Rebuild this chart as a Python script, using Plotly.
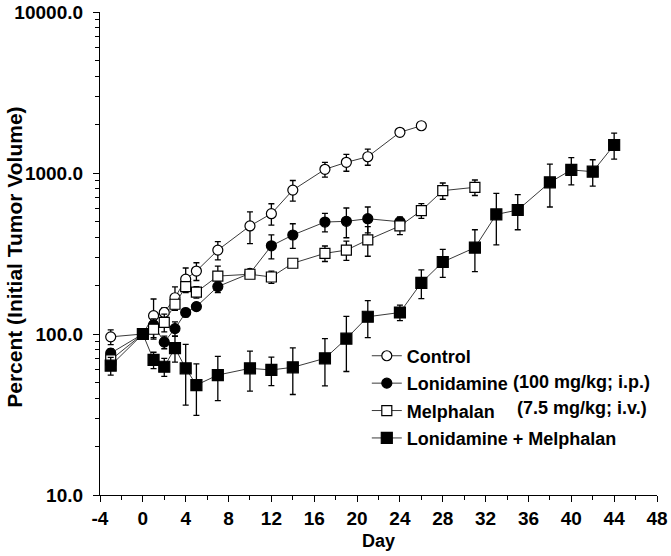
import plotly.graph_objects as go

# ---- data ----
days_control = [-3, 0, 1, 2, 3, 4, 5, 7, 10, 12, 14, 17, 19, 21, 24, 26]
control = [96, 100, 130, 136, 168, 219, 246, 332, 469, 559, 783, 1054, 1165, 1262, 1790, 1966]
control_err = [10, 0, 35, 10, 28, 38, 31, 43, 105, 85, 115, 110, 140, 145, 0, 0]

days_lon = [-3, 0, 1, 2, 3, 4, 5, 7, 10, 12, 14, 17, 19, 21, 24]
lonidamine = [76, 100, 114, 89, 108, 136, 148, 197, 238, 353, 412, 496, 501, 520, 498]
lonidamine_err = [5, 0, 10, 8, 11, 8, 8, 16, 10, 60, 72, 65, 105, 95, 35]

days_mel = [-3, 0, 1, 2, 3, 4, 5, 7, 10, 12, 14, 17, 19, 21, 24, 26, 28, 31]
melphalan = [69, 100, 107, 118, 153, 197, 182, 229, 235, 226, 275, 317, 332, 384, 469, 584, 777, 815]
melphalan_err = [5, 0, 14, 15, 10, 10, 15, 35, 10, 20, 5, 35, 45, 80, 55, 62, 90, 90]

days_combo = [-3, 0, 1, 2, 3, 4, 5, 7, 10, 12, 14, 17, 19, 21, 24, 26, 28, 31, 33, 35, 38, 40, 42, 44]
combo = [63.6, 100, 69, 62.6, 81.8, 61.2, 48.2, 55.6, 61.2, 59.8, 62.1, 70.6, 93.5, 128, 136, 208,
         280, 344, 553, 589, 875, 1045, 1019, 1493]
combo_err = [8, 0, 8, 8, 15, 25, 17, 17, 17, 12, 20, 23, 35, 33, 15, 42, 55, 100, 195, 145, 260, 200, 190, 275]

x_ticks = list(range(-4, 49, 4))
x_ticktext = [str(v) for v in x_ticks]  # plain hyphen for "-4"
y_ticks = [10, 100, 1000, 10000]
y_ticktext = ["10.0", "100.0", "1000.0", "10000.0"]
y_minor = [m * 10 ** e for e in range(1, 4) for m in range(2, 10)]

FONT = "Liberation Sans, Arial, sans-serif"

series = [
    ("Control", days_control, control, control_err, "circle", 10, "white"),
    ("Lonidamine", days_lon, lonidamine, lonidamine_err, "circle", 10, "black"),
    ("Melphalan", days_mel, melphalan, melphalan_err, "square", 10, "white"),
    ("Lonidamine + Melphalan", days_combo, combo, combo_err, "square", 11, "black"),
]

fig = go.Figure()
for i, (name, xs, ys, es, sym, size, fill) in enumerate(series):
    fig.add_trace(go.Scatter(
        x=xs, y=ys, name=name, mode="lines+markers",
        legendgroup="g%d" % i,
        line=dict(color="#3a3a3a", width=1),
        marker=dict(symbol=sym, size=size, color=fill,
                    line=dict(color="black", width=1.2)),
        error_y=dict(type="data", array=es, visible=True, color="black",
                     thickness=1.3, width=3),
    ))

fig.update_layout(
    width=671, height=556,
    margin=dict(l=100, r=14, t=12, b=61),
    paper_bgcolor="white", plot_bgcolor="white",
    font=dict(family=FONT, size=18, color="black", weight="bold"),
    showlegend=True,
    legend=dict(x=0.479, y=0.326, xanchor="left", yanchor="top",
                bgcolor="rgba(0,0,0,0)", tracegroupgap=1,
                font=dict(family=FONT, size=18, color="black", weight="bold"),
                itemwidth=30),
    xaxis=dict(range=[-4, 48], tickmode="array", tickvals=x_ticks, ticktext=x_ticktext,
               automargin=False,
               ticks="outside", ticklen=6, tickwidth=1.2, tickcolor="black",
               showline=True, linecolor="black", linewidth=1.3,
               showgrid=False, zeroline=False,
               tickfont=dict(family=FONT, size=19, color="black", weight="bold"),
               minor=dict(dtick=2, ticks="outside", ticklen=4, tickwidth=1, tickcolor="black",
                          showgrid=False)),
    yaxis=dict(type="log", range=[1, 4], tickmode="array", tickvals=y_ticks,
               ticktext=y_ticktext, automargin=False,
               ticks="outside", ticklen=6, tickwidth=1.2, tickcolor="black",
               showline=True, linecolor="black", linewidth=1.3,
               showgrid=False, zeroline=False, ticklabelstandoff=6,
               tickfont=dict(family=FONT, size=19, color="black", weight="bold"),
               minor=dict(tickmode="array", tickvals=y_minor, ticks="outside",
                          ticklen=4, tickwidth=1, tickcolor="black", showgrid=False)),
    annotations=[
        dict(text="Day", xref="paper", yref="paper", x=0.5, y=-0.095,
             xanchor="center", yanchor="middle", showarrow=False,
             font=dict(family=FONT, size=18, color="black", weight="bold")),
        dict(text="Percent (Initial Tumor Volume)", xref="paper", yref="paper",
             x=-0.1536, y=0.492, textangle=-90, xanchor="center", yanchor="middle",
             showarrow=False,
             font=dict(family=FONT, size=21, color="black", weight="bold")),
        dict(text="(100 mg/kg; i.p.)", xref="paper", yref="paper",
             x=0.737, y=0.234, xanchor="left", yanchor="middle", showarrow=False,
             font=dict(family=FONT, size=18, color="black", weight="bold")),
        dict(text="(7.5 mg/kg; i.v.)", xref="paper", yref="paper",
             x=0.7445, y=0.180, xanchor="left", yanchor="middle", showarrow=False,
             font=dict(family=FONT, size=18, color="black", weight="bold")),
    ],
)

fig.write_html("out.html", config={"displayModeBar": False},
               post_script="document.body.style.margin='0px';")
